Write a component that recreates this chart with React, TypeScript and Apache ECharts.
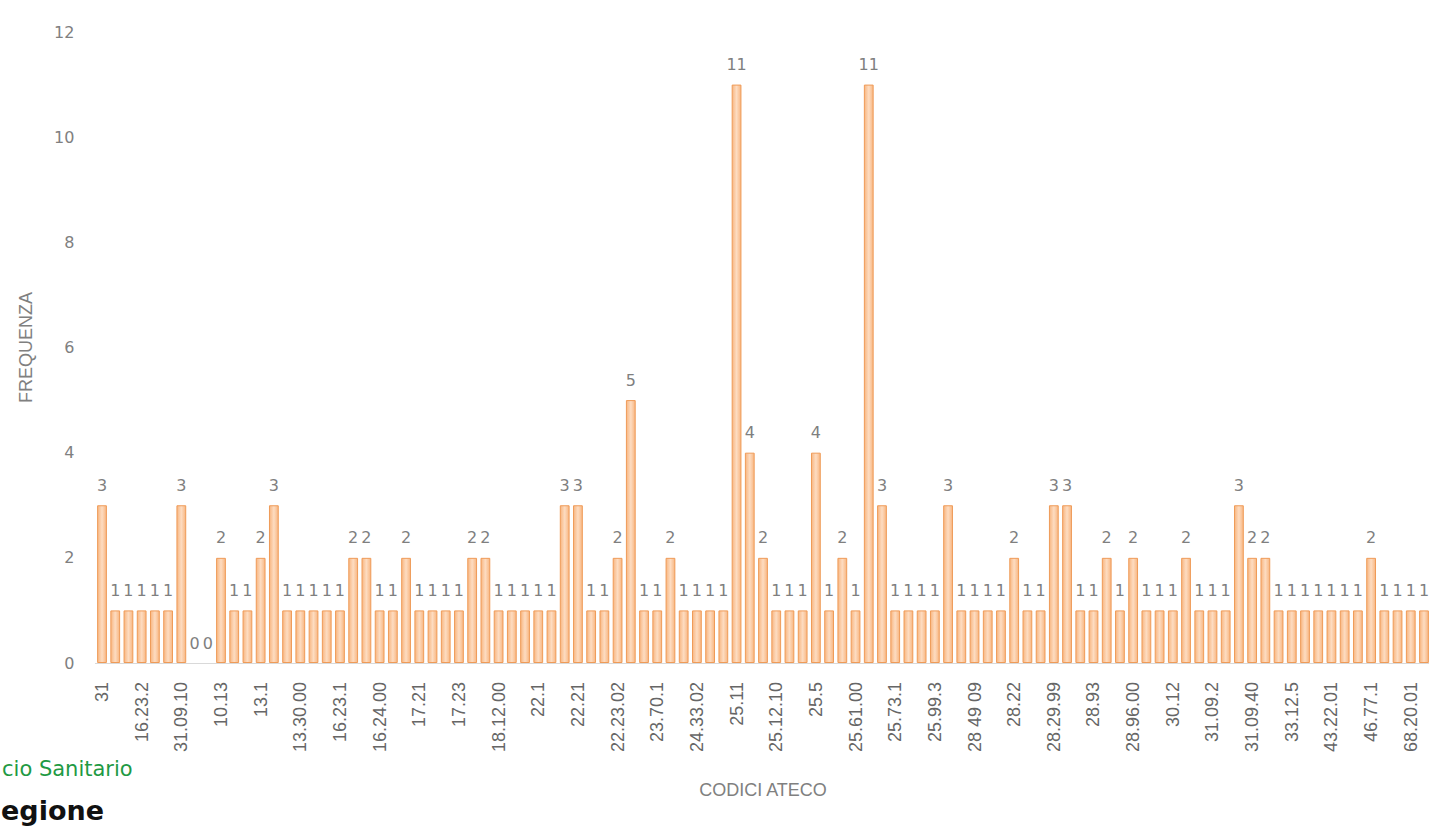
import React, { useEffect, useRef } from "react";
import * as echarts from "echarts";

const categories: string[] = [
  "31", "16.1", "16.23", "16.23.2", "16.23.9", "28", "31.09.10", "08.11", "10.1", "10.13",
  "10.51", "10.71", "13.1", "13.2", "13.92", "13.30.00", "14.1", "16.10.00", "16.23.1", "16.23.10",
  "16.23.20", "16.24.00", "17.1", "17.2", "17.21", "17.21.00", "17.22", "17.23", "18.1", "18.12",
  "18.12.00", "20.1", "20.30.00", "22.1", "22.19", "22.2", "22.21", "22.22", "22.23", "22.23.02",
  "22.29", "23.6", "23.70.1", "24.1", "24.33", "24.33.02", "25", "25.1", "25.11", "25.11.00",
  "25.12", "25.12.10", "25.2", "25.4", "25.5", "25.50.00", "25.61", "25.61.00", "25.62", "25.62.00",
  "25.73.1", "25.9", "25.99", "25.99.3", "26", "27.1", "28 49 09", "28.1", "28.2", "28.22",
  "28.25", "28.29", "28.29.99", "28.4", "28.9", "28.93", "28.94", "28.96", "28.96.00", "29.1",
  "30.1", "30.12", "31.01", "31.09", "31.09.2", "31.09.3", "31.09.5", "31.09.40", "32.9", "33.1",
  "33.12.5", "33.2", "43.2", "43.22.01", "43.29", "46.6", "46.77.1", "46.9", "52.1", "68.20.01",
  "71.12",
];

const frequenze: number[] = [
  3, 1, 1, 1, 1, 1, 3, 0, 0, 2,
  1, 1, 2, 3, 1, 1, 1, 1, 1, 2,
  2, 1, 1, 2, 1, 1, 1, 1, 2, 2,
  1, 1, 1, 1, 1, 3, 3, 1, 1, 2,
  5, 1, 1, 2, 1, 1, 1, 1, 11, 4,
  2, 1, 1, 1, 4, 1, 2, 1, 11, 3,
  1, 1, 1, 1, 3, 1, 1, 1, 1, 2,
  1, 1, 3, 3, 1, 1, 2, 1, 2, 1,
  1, 1, 2, 1, 1, 1, 3, 2, 2, 1,
  1, 1, 1, 1, 1, 1, 2, 1, 1, 1,
  1,
];

const yTicks = { min: 0, max: 12, interval: 2 };

export default function App() {
  const ref = useRef<HTMLDivElement>(null);

  useEffect(() => {
    if (!ref.current) return;
    const chart = echarts.init(ref.current, null, { renderer: "svg" });
    const font = "Liberation Sans";
    const numFont = "DejaVu Sans";
    const barData = frequenze.map((v) =>
      v === 0 ? { value: v, itemStyle: { borderWidth: 0 } } : v
    );
    chart.setOption({
      animation: false,
      backgroundColor: "#ffffff",
      grid: { left: 95.4, right: 9.4, top: 32, bottom: 164, containLabel: false },
      xAxis: {
        type: "category",
        data: categories,
        name: "CODICI ATECO",
        nameLocation: "middle",
        nameGap: 118,
        nameTextStyle: { color: "#808080", fontSize: 18, fontFamily: font },
        axisLine: { show: true, lineStyle: { color: "#d9d9d9", width: 1 } },
        axisTick: { show: false },
        axisLabel: {
          interval: 2,
          rotate: 90,
          margin: 19,
          color: "#666666",
          fontSize: 18,
          fontFamily: font,
        },
        splitLine: { show: false },
      },
      yAxis: {
        type: "value",
        min: yTicks.min,
        max: yTicks.max,
        interval: yTicks.interval,
        name: "FREQUENZA",
        nameLocation: "middle",
        nameGap: 60,
        nameTextStyle: { color: "#808080", fontSize: 18, fontFamily: font },
        axisLine: { show: false },
        axisTick: { show: false },
        axisLabel: { margin: 21, color: "#808080", fontSize: 16, fontFamily: numFont },
        splitLine: { show: false },
      },
      series: [
        {
          type: "bar",
          data: barData,
          barCategoryGap: "26%",
          itemStyle: {
            borderColor: "#ef9b58",
            borderWidth: 1,
            color: new echarts.graphic.LinearGradient(0, 0, 1, 0, [
              { offset: 0, color: "#f8b681" },
              { offset: 0.5, color: "#fddcc1" },
              { offset: 1, color: "#f8b681" },
            ]),
          },
          label: {
            show: true,
            position: "top",
            distance: 12,
            color: "#7f7f7f",
            fontSize: 16,
            fontFamily: numFont,
          },
        },
      ],
      graphic: [
        {
          type: "text",
          left: 2,
          top: 758,
          style: {
            text: "cio Sanitario",
            fill: "#1f9a44",
            fontSize: 21,
            fontFamily: "DejaVu Sans",
          },
        },
        {
          type: "text",
          left: 1,
          top: 797,
          style: {
            text: "egione",
            fill: "#111111",
            fontSize: 27,
            fontWeight: "bold",
            fontFamily: "DejaVu Sans",
          },
        },
      ],
    });
    return () => chart.dispose();
  }, []);

  return (
    <div
      style={{
        position: "fixed",
        left: 0,
        top: 0,
        width: 1429,
        height: 827,
        overflow: "hidden",
        background: "#ffffff",
      }}
    >
      <div ref={ref} style={{ width: 1440, height: 827 }} />
    </div>
  );
}
